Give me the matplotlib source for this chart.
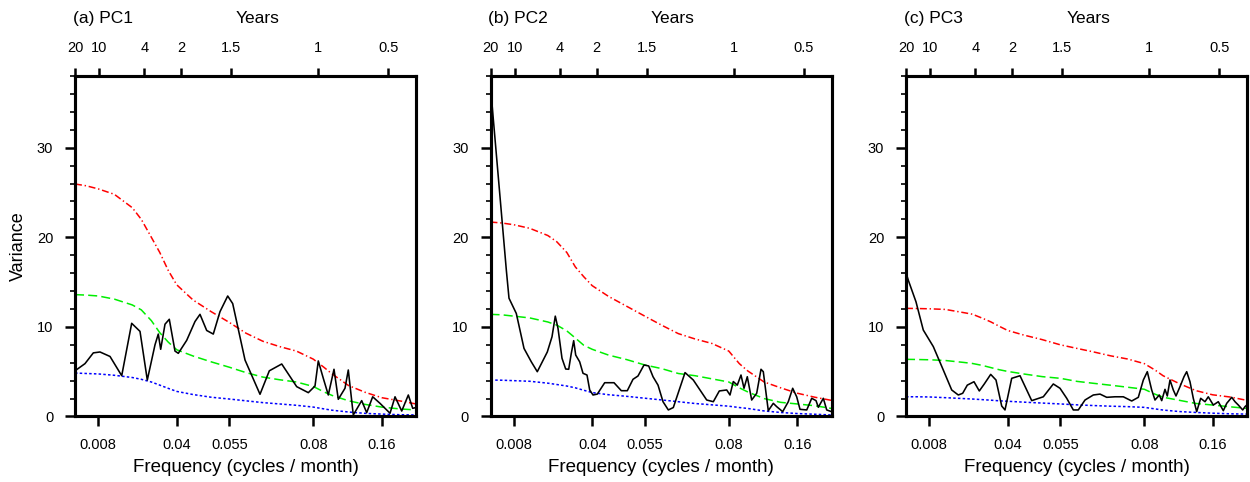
import numpy as np
import matplotlib
matplotlib.use('Agg')
import matplotlib.pyplot as plt
from matplotlib.ticker import FixedLocator, MultipleLocator, NullLocator

plt.rcParams['font.family'] = ['Liberation Sans', 'DejaVu Sans']
plt.rcParams['lines.scale_dashes'] = False

# ------------------------------------------------------------
# Data (frequency in cycles/month, variance)
# ------------------------------------------------------------
titles = ['(a) PC1', '(b) PC2', '(c) PC3']

# common frequency grid for the smooth reference curves
freq_grid = [0.004167, 0.006, 0.008, 0.0125, 0.0175, 0.02, 0.025, 0.03, 0.035, 0.04,
             0.045, 0.05, 0.055, 0.06, 0.065, 0.07, 0.075, 0.08, 0.09, 0.1,
             0.12, 0.14, 0.16, 0.18, 0.2]

red1 = [25.95, 25.75, 25.4, 24.8, 23.3, 22.0, 20.0, 18.3, 16.3, 14.7, 13.0, 11.7, 10.5,
        9.3, 8.4, 7.8, 7.3, 6.4, 5.5, 4.75, 3.45, 2.7, 2.1, 1.75, 1.4]
green1 = [13.6, 13.55, 13.45, 13.1, 12.45, 11.9, 10.7, 9.35, 8.3, 7.45, 6.75, 6.1, 5.5,
          4.9, 4.4, 4.1, 3.85, 3.35, 2.75, 2.35, 1.75, 1.35, 1.05, 0.85, 0.73]
blue1 = [4.85, 4.8, 4.75, 4.6, 4.35, 4.15, 3.85, 3.5, 3.14, 2.8, 2.45, 2.15, 1.95,
         1.75, 1.55, 1.4, 1.25, 1.05, 0.85, 0.7, 0.5, 0.35, 0.27, 0.2, 0.17]

red2 = [21.7, 21.6, 21.4, 21.0, 20.2, 19.5, 18.3, 16.7, 15.6, 14.6, 13.4, 12.3, 11.2,
        10.2, 9.25, 8.65, 8.15, 7.3, 5.9, 5.1, 3.85, 3.2, 2.6, 2.15, 1.8]
green2 = [11.4, 11.35, 11.2, 11.0, 10.55, 10.2, 9.55, 8.76, 7.95, 7.5, 6.85, 6.35, 5.75,
          5.35, 4.8, 4.55, 4.2, 3.85, 3.2, 2.75, 2.0, 1.58, 1.4, 1.2, 0.9]
blue2 = [4.07, 4.05, 4.0, 3.93, 3.72, 3.57, 3.4, 3.2, 2.93, 2.67, 2.43, 2.25, 2.04,
         1.85, 1.65, 1.45, 1.3, 1.15, 1.0, 0.9, 0.62, 0.45, 0.33, 0.25, 0.17]

red3 = [12.07, 12.05, 12.02, 11.95, 11.6, 11.42, 10.97, 10.56, 10.07, 9.6, 9.08, 8.58, 8.0,
        7.6, 7.2, 6.77, 6.42, 5.9, 5.2, 4.55, 3.65, 2.88, 2.42, 2.17, 1.8]
green3 = [6.38, 6.36, 6.33, 6.25, 6.04, 5.92, 5.7, 5.46, 5.22, 5.03, 4.74, 4.45, 4.26,
          3.92, 3.7, 3.49, 3.27, 3.04, 2.5, 2.15, 1.8, 1.45, 1.28, 1.08, 0.9]
blue3 = [2.2, 2.2, 2.18, 2.1, 2.0, 1.95, 1.88, 1.82, 1.75, 1.7, 1.6, 1.5, 1.4,
         1.3, 1.22, 1.15, 1.1, 1.02, 0.85, 0.72, 0.55, 0.45, 0.37, 0.3, 0.27]

# spectra
freq1 = [0.00417, 0.00581, 0.00718, 0.00853, 0.01131, 0.01456, 0.01733, 0.01964, 0.02261,
         0.02716, 0.02911, 0.03053, 0.03308, 0.03562, 0.03899, 0.04062, 0.04324, 0.04553,
         0.04691, 0.04876, 0.05058, 0.05243, 0.05456, 0.05606, 0.05972, 0.06417, 0.06694,
         0.07062, 0.07507, 0.07852, 0.08113, 0.08333, 0.08938, 0.09542, 0.10231, 0.10751,
         0.11561, 0.1196, 0.12565, 0.1358, 0.14185, 0.1491, 0.15793, 0.16874, 0.17476,
         0.18282, 0.19076, 0.19605, 0.2]
spec1 = [5.1, 5.9, 7.1, 7.2, 6.7, 4.55, 10.4, 9.5, 4.07, 8.0, 9.2, 7.5, 10.3, 10.85, 7.3,
         7.05, 8.5, 10.6, 11.4, 9.6, 9.2, 11.7, 13.45, 12.6, 6.3, 2.48, 5.1, 5.86, 3.33,
         2.66, 3.4, 6.2, 4.26, 2.4, 5.27, 1.92, 3.15, 5.19, 0.17, 1.77, 0.43, 2.2, 1.47,
         0.36, 2.2, 0.61, 2.4, 0.91, 1.0]

freq2 = [0.00417, 0.00677, 0.00721, 0.00875, 0.01089, 0.01292, 0.01458, 0.01736, 0.01867,
         0.01958, 0.02033, 0.02213, 0.02432, 0.0261, 0.02763, 0.02905, 0.03024, 0.0326,
         0.03456, 0.03692, 0.03852, 0.04031, 0.04189, 0.04393, 0.0465, 0.04852, 0.05017,
         0.05174, 0.05312, 0.05478, 0.05621, 0.05749, 0.05898, 0.06046, 0.06204, 0.06352,
         0.067, 0.06946, 0.07344, 0.0754, 0.07718, 0.07938, 0.0808, 0.083, 0.08756,
         0.09204, 0.09566, 0.09965, 0.10497, 0.11102, 0.11622, 0.119, 0.12504, 0.13109,
         0.1352, 0.14245, 0.14922, 0.15454, 0.15938, 0.16283, 0.17019, 0.1762, 0.18138,
         0.18414, 0.19016, 0.19425, 0.2]
spec2 = [36.8, 16.35, 13.2, 11.5, 7.6, 6.1, 5.0, 7.2, 8.9, 11.2, 9.85, 6.5, 5.3, 5.27,
         7.05, 8.46, 6.86, 6.1, 4.82, 4.63, 2.96, 2.4, 2.5, 3.77, 3.77, 2.88, 2.88, 4.15,
         4.52, 5.75, 5.64, 4.44, 3.5, 1.65, 0.73, 1.0, 4.9, 4.07, 1.84, 1.65, 2.85, 2.96,
         2.4, 3.9, 3.5, 4.63, 3.15, 4.44, 1.84, 2.59, 5.27, 5.0, 0.65, 1.47, 1.1, 0.54,
         1.65, 3.15, 2.2, 0.8, 0.73, 2.03, 1.77, 1.03, 2.03, 0.73, 0.54]

freq3 = [0.00417, 0.00455, 0.00581, 0.00701, 0.00917, 0.01194, 0.01428, 0.01611, 0.01733,
         0.01861, 0.02047, 0.0232, 0.02615, 0.02994, 0.03308, 0.03645, 0.0384, 0.04155,
         0.04388, 0.04711, 0.05031, 0.05307, 0.05492, 0.05696, 0.05892, 0.0604, 0.06239,
         0.06486, 0.06685, 0.06884, 0.0713, 0.07377, 0.07626, 0.07822, 0.07971, 0.082,
         0.08623, 0.09022, 0.09542, 0.09832, 0.10231, 0.10509, 0.10836, 0.11235, 0.11561,
         0.12045, 0.12528, 0.12855, 0.13254, 0.13653, 0.14064, 0.14547, 0.15067, 0.15466,
         0.16061, 0.16566, 0.17151, 0.1756, 0.18162, 0.18559, 0.18956, 0.19485, 0.19762, 0.2]
spec3 = [16.05, 15.2, 12.8, 9.65, 7.8, 5.19, 2.96, 2.4, 2.59, 3.5, 3.88, 2.85, 3.63, 4.7,
         4.07, 1.17, 0.73, 4.26, 4.55, 1.77, 2.2, 3.63, 3.15, 2.03, 0.73, 0.73, 1.84, 2.4,
         2.5, 2.14, 2.2, 2.2, 1.73, 2.14, 4.07, 5.0, 2.96, 1.84, 2.4, 1.77, 3.03, 2.29,
         4.07, 2.96, 2.29, 3.33, 4.44, 5.0, 3.88, 2.03, 0.54, 2.03, 1.65, 2.2, 1.28, 1.65,
         0.65, 1.47, 2.14, 1.65, 1.28, 0.73, 1.1, 1.3]

freq_ticks = [0.008, 0.04, 0.055, 0.08, 0.16]
freq_labels = ['0.008', '0.04', '0.055', '0.08', '0.16']
year_ticks = [20, 10, 4, 2, 1.5, 1, 0.5]
year_labels = ['20', '10', '4', '2', '1.5', '1', '0.5']

panels = [(freq1, spec1, red1, green1, blue1),
          (freq2, spec2, red2, green2, blue2),
          (freq3, spec3, red3, green3, blue3)]

# ------------------------------------------------------------
# Irregular frequency axis (piecewise linear, as in the original)
# ------------------------------------------------------------
knot_f = np.array([1/240, 0.008, 1/120, 1/48, 0.04, 1/24, 0.055, 1/18,
                   0.08, 1/12, 0.16, 1/6, 0.2])
knot_u = np.array([0, 23.3, 24.3, 69.3, 101.7, 106, 154.3, 156,
                   238.3, 243.3, 306.7, 313.3, 341])

def fwd(f):
    return np.interp(f, knot_f, knot_u)

def inv(u):
    return np.interp(u, knot_u, knot_f)

# ------------------------------------------------------------
# Plot
# ------------------------------------------------------------
fig = plt.figure(figsize=(12.5, 4.82), dpi=100)
lefts = [0.06, 0.3924, 0.7248]
xlim = (1/240 - 1e-9, 0.2)

for i, (f, s, r, g, b) in enumerate(panels):
    ax = fig.add_axes([lefts[i], 0.1359, 0.2728, 0.7064])
    ax.set_xscale('function', functions=(fwd, inv))
    ax.set_xlim(*xlim)
    ax.set_ylim(0, 38)

    ax.plot(freq_grid, r, color='red', lw=1.1, ls=(0, (5, 2, 1, 2)))
    ax.plot(freq_grid, g, color='#00ee00', lw=1.1, ls=(0, (6.5, 3)))
    ax.plot(freq_grid, b, color='blue', lw=1.1, ls=(0, (1.8, 1.6)))
    ax.plot(f, s, color='black', lw=1.15, zorder=3)

    ax.xaxis.set_major_locator(FixedLocator(freq_ticks))
    ax.set_xticklabels(freq_labels)
    ax.xaxis.set_minor_locator(NullLocator())
    ax.yaxis.set_major_locator(FixedLocator([0, 10, 20, 30]))
    ax.yaxis.set_minor_locator(MultipleLocator(2))
    ax.tick_params(axis='both', which='major', direction='out', length=7.2,
                   width=1.8, labelsize=10.5, pad=8.5)
    ax.tick_params(axis='y', which='minor', direction='out', length=3.5, width=1.2)
    for sp in ax.spines.values():
        sp.set_linewidth(2.2)

    ax.set_xlabel('Frequency (cycles / month)', fontsize=13.5)
    ax.xaxis.label.set_va('center')
    ax.xaxis.set_label_coords(0.5, -0.151)
    if i == 0:
        ax.set_ylabel('Variance', fontsize=13)
        ax.yaxis.label.set_va('center')
        ax.yaxis.set_label_coords(-0.167, 0.5)

    ax2 = ax.twiny()
    ax2.set_xscale('function', functions=(fwd, inv))
    ax2.set_xlim(*xlim)
    ax2.xaxis.set_major_locator(FixedLocator([1 / (12 * y) for y in year_ticks]))
    ax2.set_xticklabels(year_labels)
    ax2.xaxis.set_minor_locator(NullLocator())
    ax2.tick_params(axis='x', which='major', direction='out', length=5.8,
                    width=1.8, labelsize=10.5, pad=9.4)
    for sp in ax2.spines.values():
        sp.set_linewidth(2.2)

    ax.text(-0.007, 1.17, titles[i], transform=ax.transAxes, ha='left',
            va='center', fontsize=12.5)
    ax.text(0.535, 1.17, 'Years', transform=ax.transAxes, ha='center',
            va='center', fontsize=12.5)

fig.savefig('out.png', dpi=100)
